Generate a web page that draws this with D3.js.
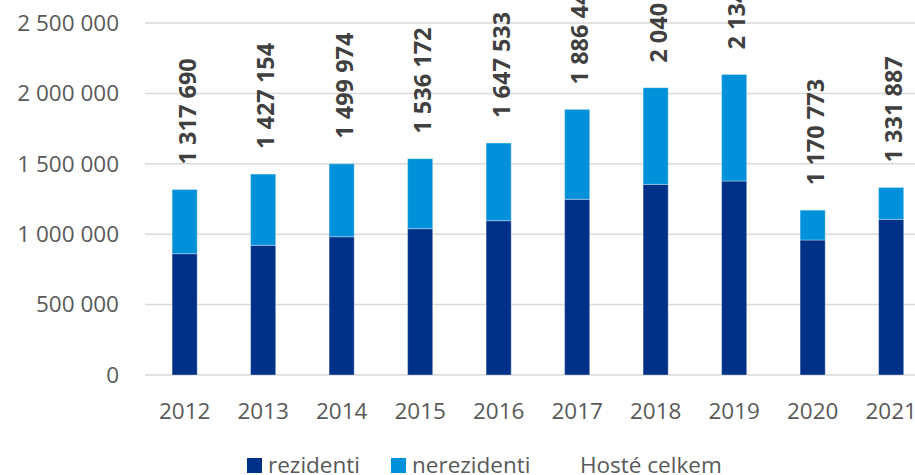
<!DOCTYPE html>
<html>
<head>
<meta charset="utf-8">
<script src="https://cdn.jsdelivr.net/npm/d3@7"></script>
<style>
  body { margin: 0; background: #fff; }
  svg { display: block; font-family: "Open Sans", "Noto Sans", sans-serif; }
</style>
</head>
<body>
<svg id="chart" width="915" height="475"></svg>
<script>
// roky a hodnoty
var years = ["2012", "2013", "2014", "2015", "2016", "2017", "2018", "2019", "2020", "2021"];
var rezidenti = [861500, 921000, 982000, 1039000, 1096000, 1248000, 1354000, 1378000, 958800, 1105600];
var nerezidenti = [456190, 506154, 517974, 497172, 551533, 638440, 686300, 756200, 211973, 226287];
var celkem = [1317690, 1427154, 1499974, 1536172, 1647533, 1886440, 2040300, 2134200, 1170773, 1331887];
var yTicks = [0, 500000, 1000000, 1500000, 2000000, 2500000];

var colRez = "#003189",
    colNerez = "#0091da";

var svg = d3.select("#chart");

var locale = d3.formatLocale({ decimal: ",", thousands: " ", grouping: [3], currency: ["", ""] });
var fmt = locale.format(",d");

var x = d3.scaleBand().domain(years).range([145.4, 930.4]).paddingInner(0.68).paddingOuter(0.34);
var y = d3.scaleLinear().domain([0, 2500000]).range([375, 23]);

// mřížka
svg.append("g")
    .selectAll("line")
    .data(yTicks)
    .enter().append("line")
    .attr("x1", 145).attr("x2", 915)
    .attr("y1", function (d) { return y(d); })
    .attr("y2", function (d) { return y(d); })
    .attr("stroke", "#d9d9d9")
    .attr("stroke-width", 1.5);

// osa y
svg.append("g")
    .selectAll("text")
    .data(yTicks)
    .enter().append("text")
    .attr("x", 119)
    .attr("y", function (d) { return y(d); })
    .attr("dy", "0.35em")
    .attr("text-anchor", "end")
    .attr("font-size", 22.5)
    .attr("fill", "#595959")
    .text(function (d) { return fmt(d); });

var data = years.map(function (yr, i) {
    return { year: yr, rez: rezidenti[i], nerez: nerezidenti[i], total: celkem[i] };
});

var bars = svg.append("g");

bars.selectAll("rect.rez")
    .data(data)
    .enter().append("rect")
    .attr("class", "rez")
    .attr("x", function (d) { return x(d.year); })
    .attr("width", x.bandwidth())
    .attr("y", function (d) { return y(d.rez); })
    .attr("height", function (d) { return y(0) - y(d.rez); })
    .attr("fill", colRez)
    .attr("stroke", "rgba(255,255,255,0.35)")
    .attr("stroke-width", 1);

bars.selectAll("rect.nerez")
    .data(data)
    .enter().append("rect")
    .attr("class", "nerez")
    .attr("x", function (d) { return x(d.year); })
    .attr("width", x.bandwidth())
    .attr("y", function (d) { return y(d.rez + d.nerez); })
    .attr("height", function (d) { return y(d.rez) - y(d.rez + d.nerez); })
    .attr("fill", colNerez)
    .attr("stroke", "rgba(255,255,255,0.35)")
    .attr("stroke-width", 1);

// popisky celkem
svg.append("g")
    .selectAll("text")
    .data(data)
    .enter().append("text")
    .attr("transform", function (d) {
        return "translate(" + (x(d.year) + x.bandwidth() / 2 + 3) + "," + (y(d.total) - 25) + ") rotate(-90)";
    })
    .attr("dy", "0.35em")
    .attr("text-anchor", "start")
    .attr("font-size", 23.5)
    .attr("font-weight", "bold")
    .attr("fill", "#404040")
    .text(function (d) { return fmt(d.total); });

// osa x
svg.append("g")
    .selectAll("text")
    .data(years)
    .enter().append("text")
    .attr("x", function (d) { return x(d) + x.bandwidth() / 2; })
    .attr("y", 419)
    .attr("text-anchor", "middle")
    .attr("font-size", 22.5)
    .attr("fill", "#595959")
    .text(function (d) { return d; });

// legenda
var legend = [
    { name: "rezidenti", color: colRez, x: 247 },
    { name: "nerezidenti", color: colNerez, x: 391 },
    { name: "Hosté celkem", color: null, x: 559 }
];
var lg = svg.append("g")
    .selectAll("g")
    .data(legend)
    .enter().append("g")
    .attr("transform", function (d) { return "translate(" + d.x + ",0)"; });

lg.filter(function (d) { return d.color; })
    .append("rect")
    .attr("y", 458)
    .attr("width", 15).attr("height", 15)
    .attr("fill", function (d) { return d.color; });

lg.append("text")
    .attr("x", 21)
    .attr("y", 473)
    .attr("font-size", 22.5)
    .attr("fill", "#595959")
    .text(function (d) { return d.name; });
</script>
</body>
</html>
